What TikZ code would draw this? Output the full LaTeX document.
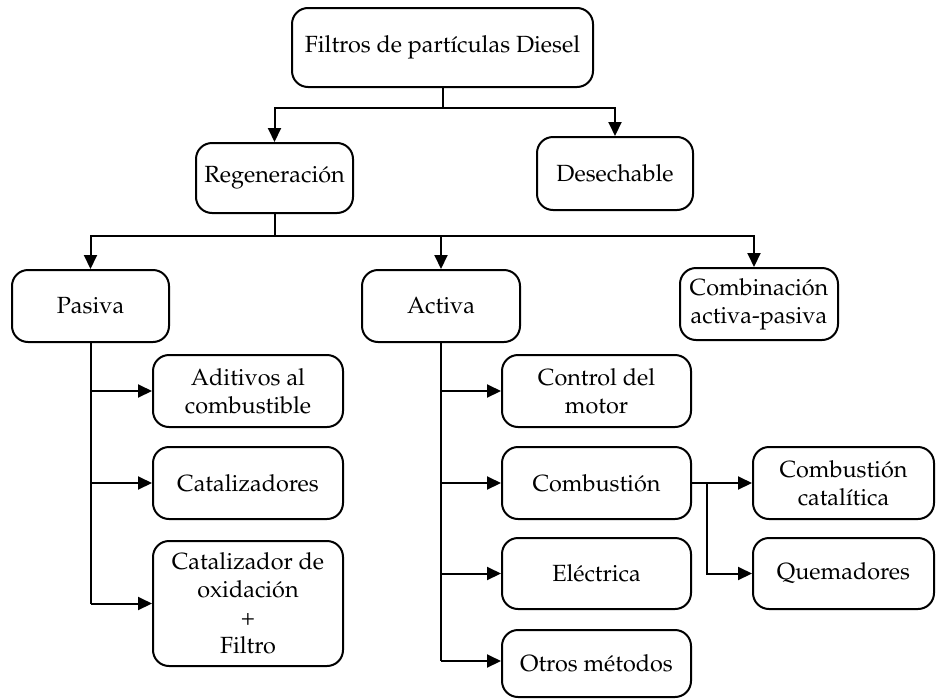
\documentclass[tikz,border=0pt]{standalone}
\usepackage[T1]{fontenc}
\usepackage{mathpazo}
\usetikzlibrary{arrows.meta,calc}

\tikzset{
  box/.style={draw, line width=2pt, rounded corners=16pt, align=center,
    inner sep=2pt, font=\fontsize{23.4}{28}\selectfont},
  link/.style={line width=2pt},
  arr/.style={line width=2pt, -{Triangle[length=14pt,width=13pt]}},
}

\begin{document}
\begin{tikzpicture}[x=1pt,y=-1pt]
\useasboundingbox (0,0) rectangle (936,699);

% first level
\node[box, minimum width=301pt, minimum height=79pt] (top) at (442.5,47.5) {Filtros de part\'{\i}culas Diesel};
\node[box, minimum width=157pt, minimum height=70pt] (reg) at (274.5,178) {Regeneraci\'on};
\node[box, minimum width=156pt, minimum height=73pt] (des) at (615,173.5) {Desechable};

% regeneration types
\node[box, minimum width=157pt, minimum height=72pt] (pas) at (90.5,306) {Pasiva};
\node[box, minimum width=158pt, minimum height=72pt] (act) at (441,306) {Activa};
\node[box, minimum width=158pt, minimum height=72pt] (comb) at (759,304) {Combinaci\'on\\activa-pasiva};

% passive methods
\node[box, minimum width=190pt, minimum height=72pt] (adi) at (248,391) {Aditivos al\\combustible};
\node[box, minimum width=190pt, minimum height=72pt] (cat) at (248,483) {Catalizadores};
\node[box, minimum width=190pt, minimum height=125pt] (cox) at (248,603.5) {Catalizador de\\oxidaci\'on\\+\\Filtro};

% active methods
\node[box, minimum width=189pt, minimum height=72pt] (ctl) at (596.5,391) {Control del\\motor};
\node[box, minimum width=189pt, minimum height=72pt] (cbu) at (596.5,483) {Combusti\'on};
\node[box, minimum width=189pt, minimum height=71pt] (ele) at (596.5,573.5) {El\'ectrica};
\node[box, minimum width=189pt, minimum height=67pt] (otr) at (596.5,663.5) {Otros m\'etodos};

% combustion variants
\node[box, minimum width=181pt, minimum height=72pt] (cct) at (843.5,483) {Combusti\'on\\catal\'{\i}tica};
\node[box, minimum width=181pt, minimum height=71pt] (que) at (843.5,573.5) {Quemadores};

% connectors from the root
\draw[link] (top.south) -- ++(0,20) coordinate (t1);
\draw[arr] (t1) -| (reg.north);
\draw[arr] (t1) -| (des.north);

% connectors from regeneration
\draw[link] (reg.south) -- ++(0,22) coordinate (r1);
\draw[arr] (r1) -| (pas.north);
\draw[arr] (r1) -| (act.north);
\coordinate (combtop) at ([xshift=-5pt]comb.north);
\draw[arr] (r1) -| (combtop);

% passive branch
\draw[link] (pas.south) -- (pas.south |- cox.west);
\draw[arr] (pas.south |- adi.west) -- (adi.west);
\draw[arr] (pas.south |- cat.west) -- (cat.west);
\draw[arr] (pas.south |- cox.west) -- (cox.west);

% active branch
\coordinate (otrin) at ([yshift=2.5pt]otr.west);
\draw[link] (act.south) -- (act.south |- otrin);
\draw[arr] (act.south |- ctl.west) -- (ctl.west);
\draw[arr] (act.south |- cbu.west) -- (cbu.west);
\draw[arr] (act.south |- ele.west) -- (ele.west);
\draw[arr] (act.south |- otrin) -- (otrin);

% combustion branch
\coordinate (c1) at ($(cbu.east)+(15,0)$);
\draw[arr] (cbu.east) -- (cct.west);
\draw[arr] (c1) |- (que.west);
\end{tikzpicture}
\end{document}
